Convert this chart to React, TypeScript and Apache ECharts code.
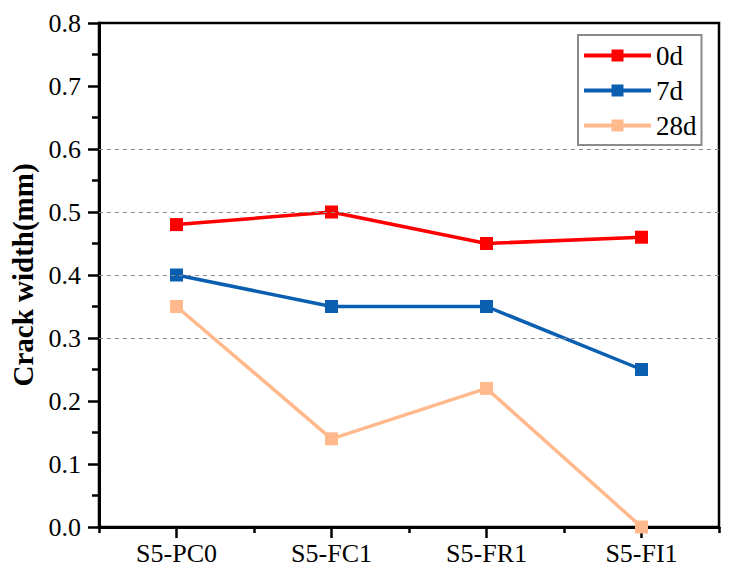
import React, { useEffect, useRef } from "react";
import * as echarts from "echarts";

const categories = ["S5-PC0", "S5-FC1", "S5-FR1", "S5-FI1"];
const seriesNames = ["0d", "7d", "28d"];
const values0d = [0.48, 0.5, 0.45, 0.46];
const values7d = [0.4, 0.35, 0.35, 0.25];
const values28d = [0.35, 0.14, 0.22, 0.0];
const gridValues = [0.3, 0.4, 0.5, 0.6];
const colors = ["#ff0000", "#0b5fb0", "#ffb98c"];

const FONT = "Liberation Serif";

export default function App() {
  const ref = useRef<HTMLDivElement>(null);
  useEffect(() => {
    if (!ref.current) return;
    const chart = echarts.init(ref.current, null, { renderer: "svg" });
    const allValues = [values0d, values7d, values28d];
    const series: any[] = [
      {
        type: "line",
        name: "_grid",
        data: [],
        silent: true,
        z: 1,
        markLine: {
          silent: true,
          symbol: ["none", "none"],
          label: { show: false },
          lineStyle: { color: "#8c8c8c", width: 1.2, type: [4, 4] },
          data: gridValues.map((v) => ({ yAxis: v })),
        },
      },
      ...seriesNames.map((name, i) => ({
        type: "line",
        name,
        data: allValues[i],
        symbol: "rect",
        symbolSize: 13,
        z: 3 + i,
        lineStyle: { color: colors[i], width: 3.5 },
        itemStyle: { color: colors[i] },
      })),
    ];
    chart.setOption({
      animation: false,
      backgroundColor: "#ffffff",
      textStyle: { fontFamily: FONT },
      grid: {
        left: 95,
        right: 13,
        top: 23,
        bottom: 49,
        show: true,
        borderColor: "#000",
        borderWidth: 2.5,
        backgroundColor: "transparent",
      },
      legend: {
        data: seriesNames,
        orient: "vertical",
        left: 578,
        top: 35,
        padding: [7, 5, 6, 4],
        itemWidth: 67,
        itemHeight: 15,
        itemGap: 8,
        borderColor: "#8a8a8a",
        borderWidth: 2,
        backgroundColor: "#fff",
        lineStyle: { width: 4 },
        textStyle: { fontFamily: FONT, fontSize: 27, color: "#000" },
      },
      xAxis: [
        {
          type: "category",
          data: categories,
          position: "bottom",
          boundaryGap: true,
          axisLine: { show: true, lineStyle: { color: "#000", width: 3 } },
          axisTick: {
            show: true,
            alignWithLabel: true,
            length: 11,
            lineStyle: { color: "#000", width: 2.5 },
          },
          axisLabel: { fontFamily: FONT, fontSize: 26, color: "#000", margin: 13 },
          splitLine: { show: false },
        },
        {
          type: "category",
          data: categories,
          position: "bottom",
          boundaryGap: true,
          axisLine: { show: false },
          axisTick: {
            show: true,
            length: 6,
            lineStyle: { color: "#000", width: 2.5 },
          },
          axisLabel: { show: false },
          splitLine: { show: false },
        },
      ],
      yAxis: {
        type: "value",
        min: 0,
        max: 0.8,
        interval: 0.1,
        name: "Crack width(mm)",
        nameLocation: "middle",
        nameGap: 62,
        nameTextStyle: { fontFamily: FONT, fontSize: 29, fontWeight: "bold", color: "#000" },
        axisLine: { show: true, lineStyle: { color: "#000", width: 3 } },
        axisTick: { show: true, length: 11, lineStyle: { color: "#000", width: 2.5 } },
        minorTick: { show: true, splitNumber: 2, length: 7, lineStyle: { color: "#000", width: 2.5 } },
        axisLabel: {
          fontFamily: FONT,
          fontSize: 26,
          color: "#000",
          margin: 18,
          formatter: (v: number) => v.toFixed(1),
        },
        splitLine: { show: false },
        minorSplitLine: { show: false },
      },
      series,
    });
    return () => chart.dispose();
  }, []);
  return <div ref={ref} style={{ width: 732, height: 576, position: "absolute", left: 0, top: 0 }} />;
}
